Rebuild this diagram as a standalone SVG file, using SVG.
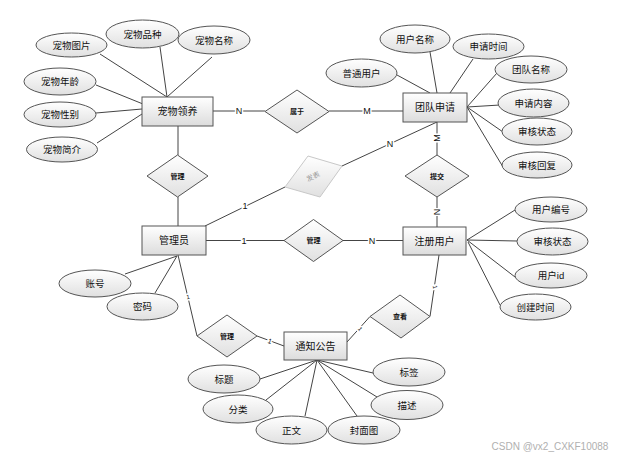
<svg xmlns="http://www.w3.org/2000/svg" width="619" height="457" viewBox="0 0 619 457">
<style>
text{font-family:"Liberation Sans","Noto Sans CJK SC",sans-serif;fill:#111;text-anchor:middle;dominant-baseline:central}
.ent rect{fill:url(#ge);stroke:#555;stroke-width:1}
.ent text{font-size:10px}
.att ellipse{fill:url(#ga);stroke:#555;stroke-width:1}
.att text{font-size:9.5px}
.rel polygon{fill:url(#ga);stroke:#555;stroke-width:1}
.rel text{font-size:7px;font-weight:bold}
.conn line{stroke:#444;stroke-width:1}
.lbl{font-size:9px;stroke:#fff;stroke-width:3;paint-order:stroke}
</style>
<defs>
<linearGradient id="ge" x1="0" y1="0" x2="0" y2="1"><stop offset="0" stop-color="#ffffff"/><stop offset="1" stop-color="#dcdcdc"/></linearGradient>
<linearGradient id="ga" x1="0" y1="0" x2="0" y2="1"><stop offset="0" stop-color="#ffffff"/><stop offset="1" stop-color="#e0e0e0"/></linearGradient>
</defs>
<rect width="619" height="457" fill="#fff"/>
<g id="connectors" class="conn">
<line x1="100" y1="54" x2="167" y2="97"/>
<line x1="160" y1="47" x2="167" y2="97"/>
<line x1="212" y1="57" x2="167" y2="97"/>
<line x1="96" y1="85" x2="143" y2="104"/>
<line x1="96" y1="113" x2="142" y2="109"/>
<line x1="97" y1="143" x2="142" y2="114"/>
<line x1="430" y1="52" x2="437" y2="93"/>
<line x1="473" y1="59" x2="450" y2="93"/>
<line x1="397" y1="75" x2="430" y2="93"/>
<line x1="497" y1="73" x2="467" y2="107"/>
<line x1="500" y1="105" x2="467" y2="107"/>
<line x1="503" y1="132" x2="467" y2="107"/>
<line x1="503" y1="167" x2="467" y2="107"/>
<line x1="213" y1="111" x2="265" y2="111"/>
<line x1="329" y1="111" x2="403" y2="111"/>
<line x1="178" y1="126" x2="178" y2="155"/>
<line x1="178" y1="197" x2="178" y2="226"/>
<line x1="205" y1="226" x2="285" y2="187"/>
<line x1="342" y1="166" x2="437" y2="122"/>
<line x1="437" y1="122" x2="437" y2="155"/>
<line x1="437" y1="197" x2="437" y2="227"/>
<line x1="206" y1="240.5" x2="284" y2="240.5"/>
<line x1="343" y1="240.5" x2="403" y2="240.5"/>
<line x1="467" y1="240" x2="515" y2="210"/>
<line x1="467" y1="240" x2="517" y2="241"/>
<line x1="467" y1="240" x2="515" y2="277"/>
<line x1="468" y1="242" x2="500" y2="305"/>
<line x1="439" y1="255" x2="430" y2="316.5"/>
<line x1="347" y1="342" x2="370" y2="316.5"/>
<line x1="178" y1="255" x2="197" y2="336"/>
<line x1="257" y1="336" x2="284" y2="346"/>
<line x1="177" y1="256" x2="125" y2="274"/>
<line x1="177" y1="256" x2="155" y2="293"/>
<line x1="317" y1="360" x2="260" y2="379"/>
<line x1="317" y1="360" x2="266" y2="400"/>
<line x1="317" y1="360" x2="305" y2="416"/>
<line x1="317" y1="360" x2="357" y2="416"/>
<line x1="317" y1="360" x2="377" y2="397"/>
<line x1="317" y1="360" x2="373" y2="373"/>
<text class="lbl" x="239" y="111">N</text>
<text class="lbl" x="367" y="111">M</text>
<text class="lbl" x="245" y="206">1</text>
<text class="lbl" x="390" y="144">N</text>
<text class="lbl" transform="translate(437,138) rotate(-90)">M</text>
<text class="lbl" transform="translate(437,212) rotate(90)">N</text>
<text class="lbl" x="244" y="241">1</text>
<text class="lbl" x="372" y="241">N</text>
<text class="lbl" style="font-size:6px" transform="translate(435,287) rotate(80)">1</text>
<text class="lbl" style="font-size:6px" transform="translate(360,329) rotate(50)">1</text>
<text class="lbl" style="font-size:6px" transform="translate(188,297) rotate(-10)">1</text>
<text class="lbl" style="font-size:7px" transform="translate(270,341) rotate(20)">1</text>
</g>
<g id="e-pet" class="ent"><rect x="142" y="97" width="71" height="29"/><text x="177.5" y="111.5">宠物领养</text></g>
<g id="e-team" class="ent"><rect x="403" y="93" width="64" height="29"/><text x="435" y="107.5">团队申请</text></g>
<g id="e-admin" class="ent"><rect x="142" y="226" width="64" height="29"/><text x="174" y="240.5">管理员</text></g>
<g id="e-user" class="ent"><rect x="403" y="227" width="63" height="28"/><text x="434.5" y="241">注册用户</text></g>
<g id="e-notice" class="ent"><rect x="284" y="332" width="63" height="28"/><text x="315.5" y="346">通知公告</text></g>
<g id="a-pic" class="att"><ellipse cx="71.5" cy="45" rx="35.5" ry="12"/><text x="71.5" y="45">宠物图片</text></g>
<g id="a-breed" class="att"><ellipse cx="142.5" cy="34" rx="36.5" ry="14"/><text x="142.5" y="34">宠物品种</text></g>
<g id="a-name" class="att"><ellipse cx="214" cy="40" rx="36" ry="14"/><text x="214" y="40">宠物名称</text></g>
<g id="a-age" class="att"><ellipse cx="60" cy="81.5" rx="36" ry="13.5"/><text x="60" y="81.5">宠物年龄</text></g>
<g id="a-sex" class="att"><ellipse cx="60" cy="114.5" rx="36" ry="12.5"/><text x="60" y="114.5">宠物性别</text></g>
<g id="a-intro" class="att"><ellipse cx="62" cy="149.5" rx="35.5" ry="12.5"/><text x="62" y="149.5">宠物简介</text></g>
<g id="a-uname" class="att"><ellipse cx="415" cy="39" rx="35" ry="14"/><text x="415" y="39">用户名称</text></g>
<g id="a-atime" class="att"><ellipse cx="488.5" cy="46.5" rx="35.5" ry="12.5"/><text x="488.5" y="46.5">申请时间</text></g>
<g id="a-tname" class="att"><ellipse cx="531" cy="69.5" rx="36" ry="13.5"/><text x="531" y="69.5">团队名称</text></g>
<g id="a-normal" class="att"><ellipse cx="361.5" cy="73" rx="35.5" ry="14"/><text x="361.5" y="73">普通用户</text></g>
<g id="a-content" class="att"><ellipse cx="533.5" cy="103" rx="35.5" ry="14"/><text x="533.5" y="103">申请内容</text></g>
<g id="a-status1" class="att"><ellipse cx="537" cy="131.5" rx="35" ry="13.5"/><text x="537" y="131.5">审核状态</text></g>
<g id="a-reply" class="att"><ellipse cx="537" cy="165" rx="35" ry="13"/><text x="537" y="165">审核回复</text></g>
<g id="a-uid" class="att"><ellipse cx="551" cy="209.5" rx="36" ry="12.5"/><text x="551" y="209.5">用户编号</text></g>
<g id="a-status2" class="att"><ellipse cx="552.5" cy="241.5" rx="35.5" ry="13.5"/><text x="552.5" y="241.5">审核状态</text></g>
<g id="a-userid" class="att"><ellipse cx="551" cy="275.5" rx="36" ry="12.5"/><text x="551" y="275.5">用户id</text></g>
<g id="a-ctime" class="att"><ellipse cx="535.5" cy="307" rx="35.5" ry="13"/><text x="535.5" y="307">创建时间</text></g>
<g id="a-account" class="att"><ellipse cx="95" cy="283.5" rx="36" ry="13.5"/><text x="95" y="283.5">账号</text></g>
<g id="a-pwd" class="att"><ellipse cx="142.5" cy="306.5" rx="35.5" ry="13.5"/><text x="142.5" y="306.5">密码</text></g>
<g id="a-title" class="att"><ellipse cx="224" cy="379" rx="36" ry="14"/><text x="224" y="379">标题</text></g>
<g id="a-cat" class="att"><ellipse cx="238" cy="409" rx="35" ry="14"/><text x="238" y="409">分类</text></g>
<g id="a-body" class="att"><ellipse cx="291.5" cy="430" rx="35.5" ry="14"/><text x="291.5" y="430">正文</text></g>
<g id="a-cover" class="att"><ellipse cx="364" cy="430" rx="36" ry="14"/><text x="364" y="430">封面图</text></g>
<g id="a-tag" class="att"><ellipse cx="409" cy="372" rx="36" ry="14"/><text x="409" y="372">标签</text></g>
<g id="a-desc" class="att"><ellipse cx="407" cy="405" rx="36" ry="14.5"/><text x="407" y="405">描述</text></g>
<g id="r-belong" class="rel"><polygon points="265,111.5 297,90 329,111.5 297,133"/><text x="297" y="111.5">属于</text></g>
<g id="r-manage1" class="rel"><polygon points="147,176 177.5,155 208,176 177.5,197"/><text x="177.5" y="176">管理</text></g>
<g id="r-publish" class="rel"><polygon points="285,187 308,156 342,166 320,197" style="stroke:#c8c8c8"/><text transform="translate(313,176.5) rotate(-25)" style="fill:#999;font-weight:normal">发表</text></g>
<g id="r-submit" class="rel"><polygon points="405,176 437,155 469,176 437,197"/><text x="437" y="176">提交</text></g>
<g id="r-manage2" class="rel"><polygon points="284,240.5 313.5,219.5 343,240.5 313.5,261.5"/><text x="313.5" y="240.5">管理</text></g>
<g id="r-view" class="rel"><polygon points="370,316.5 400,295 430,316.5 401,338"/><text x="400" y="316.5">查看</text></g>
<g id="r-manage3" class="rel"><polygon points="197,336 227,315 257,336 227,357"/><text x="227" y="336">管理</text></g>
<text x="550" y="446" style="font-size:10px;fill:#b0b0b0">CSDN @vx2_CXKF10088</text>
</svg>
